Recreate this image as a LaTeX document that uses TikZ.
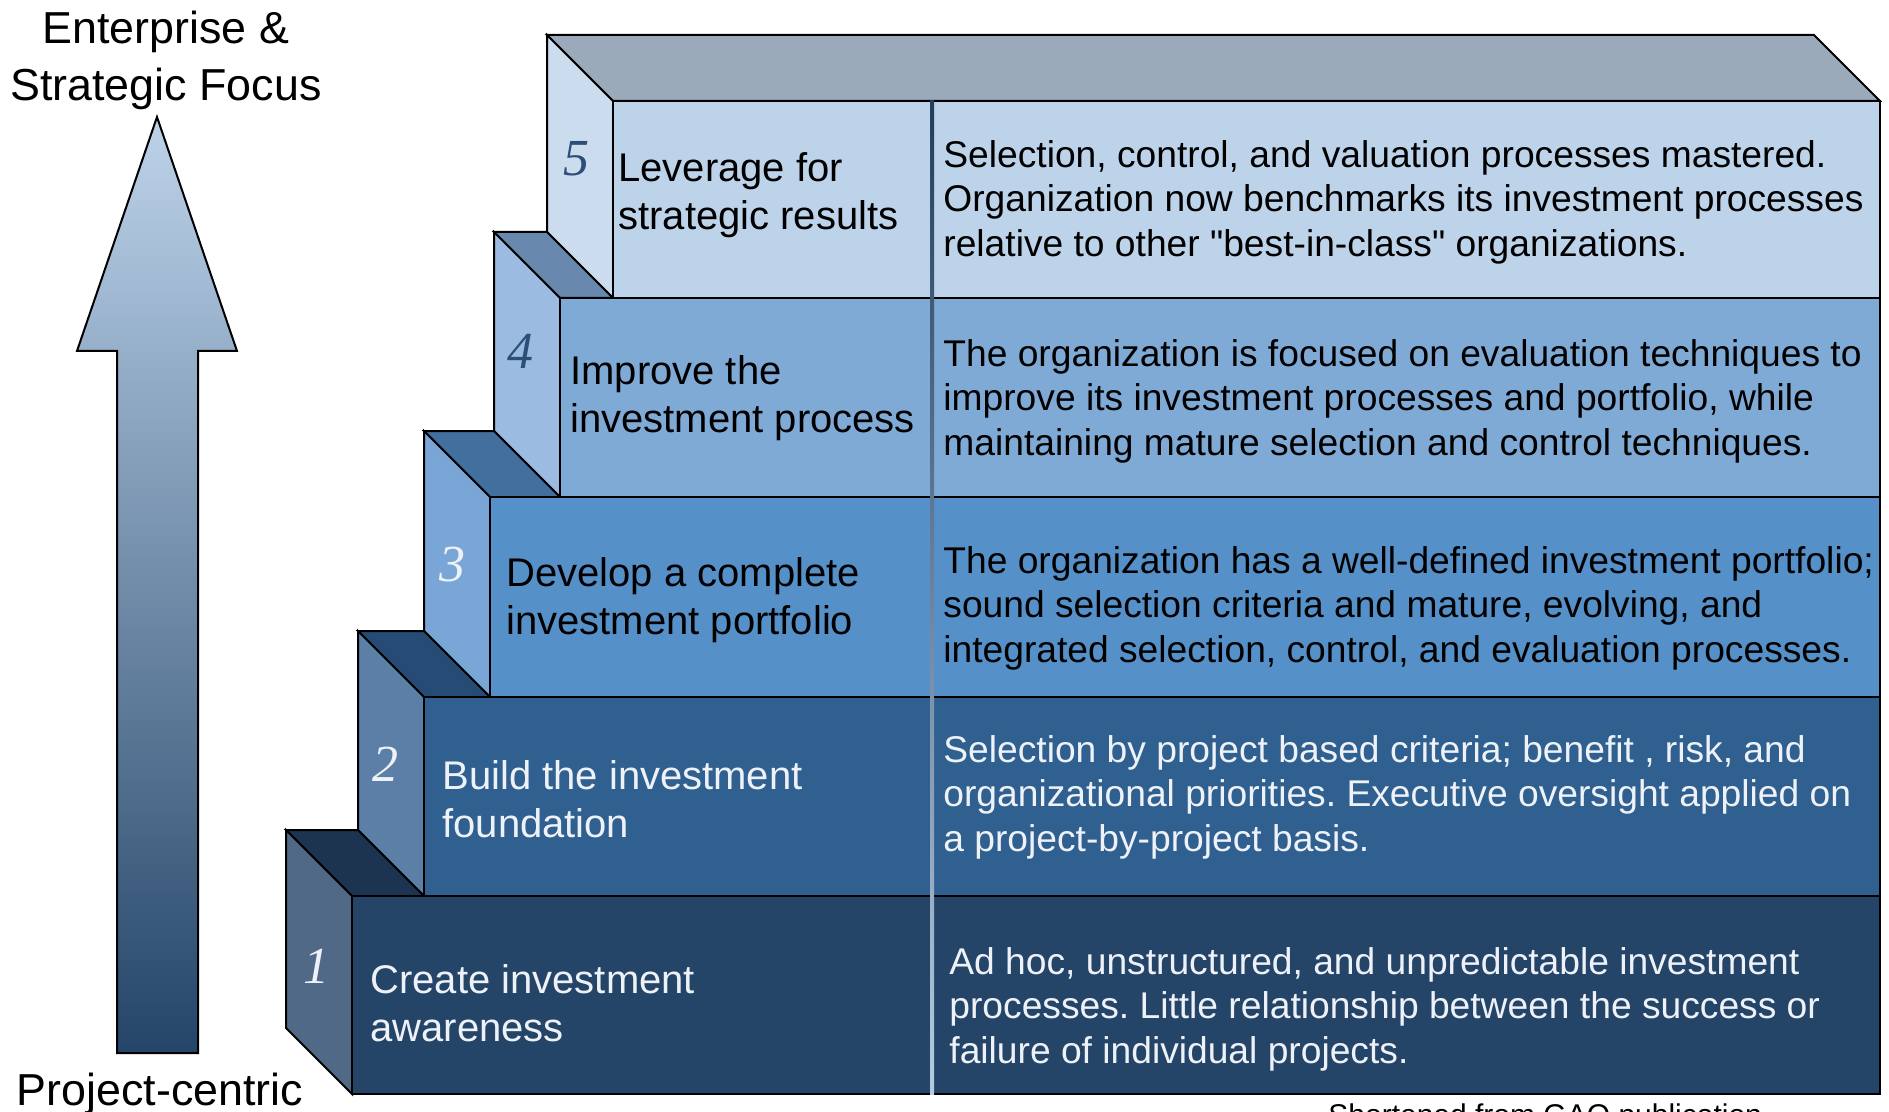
\documentclass[tikz,border=0pt]{standalone}
\usepackage{fontspec}
\setmainfont{Liberation Sans}
\newfontfamily\numfont{Liberation Serif}
\usepackage{tikz}
\usetikzlibrary{positioning}
\frenchspacing
\definecolor{stepAfront}{HTML}{244568}
\definecolor{stepAside}{HTML}{4F6987}
\definecolor{stepAtop}{HTML}{1C3450}
\definecolor{stepBfront}{HTML}{30608F}
\definecolor{stepBside}{HTML}{5B7FA7}
\definecolor{stepBtop}{HTML}{264B74}
\definecolor{stepCfront}{HTML}{5590C8}
\definecolor{stepCside}{HTML}{79A6D6}
\definecolor{stepCtop}{HTML}{436F9F}
\definecolor{stepDfront}{HTML}{80AAD6}
\definecolor{stepDside}{HTML}{9BBCE0}
\definecolor{stepDtop}{HTML}{6889AD}
\definecolor{stepEfront}{HTML}{BDD3EA}
\definecolor{stepEside}{HTML}{CADCEE}
\definecolor{stepEtop}{HTML}{9AAABB}
\definecolor{numdark}{HTML}{2D4E78}
\definecolor{textlight}{HTML}{EEF2F8}

\begin{document}
\begin{tikzpicture}[
    x=0.5pt, y=-0.5pt,
    face/.style={draw=black, line width=1pt, line join=miter},
    title/.style={anchor=west, align=left, inner sep=0pt, font=\fontsize{20}{24}\selectfont},
    desc/.style={anchor=west, align=left, inner sep=0pt, font=\fontsize{18.6}{22.3}\selectfont},
    stepnum/.style={inner sep=0pt, font=\numfont\itshape\fontsize{26}{26}\selectfont},
    axislabel/.style={align=center, inner sep=0pt, font=\fontsize{22.4}{28.5}\selectfont}
]
    \useasboundingbox (0,0) rectangle (1889,1112);
    \clip (0,0) rectangle (1889,1112);

    % Level 5
    \filldraw[face, fill=stepEtop] (547,35) -- (1814,35) -- (1880,101) -- (613,101) -- cycle;
    \filldraw[face, fill=stepEside] (547,35) -- (613,101) -- (613,298) -- (547,232) -- cycle;
    \filldraw[face, fill=stepEfront] (613,101) rectangle (1880,298);

    % Level 4
    \filldraw[face, fill=stepDtop] (494,232) -- (547,232) -- (613,298) -- (560,298) -- cycle;
    \filldraw[face, fill=stepDside] (494,232) -- (560,298) -- (560,497) -- (494,431) -- cycle;
    \filldraw[face, fill=stepDfront] (560,298) rectangle (1880,497);

    % Level 3
    \filldraw[face, fill=stepCtop] (424,431) -- (494,431) -- (560,497) -- (490,497) -- cycle;
    \filldraw[face, fill=stepCside] (424,431) -- (490,497) -- (490,697) -- (424,631) -- cycle;
    \filldraw[face, fill=stepCfront] (490,497) rectangle (1880,697);

    % Level 2
    \filldraw[face, fill=stepBtop] (358,631) -- (424,631) -- (490,697) -- (424,697) -- cycle;
    \filldraw[face, fill=stepBside] (358,631) -- (424,697) -- (424,896) -- (358,830) -- cycle;
    \filldraw[face, fill=stepBfront] (424,697) rectangle (1880,896);

    % Level 1
    \filldraw[face, fill=stepAtop] (286,830) -- (358,830) -- (424,896) -- (352,896) -- cycle;
    \filldraw[face, fill=stepAside] (286,830) -- (352,896) -- (352,1094) -- (286,1028) -- cycle;
    \filldraw[face, fill=stepAfront] (352,896) rectangle (1880,1094);

    % Divider
    \shade[top color=stepAfront!90!black, middle color=stepDtop!70!gray, bottom color=stepEfront!90!gray]
        (930,101) rectangle (934,1094);

    % Step numbers
    \node[stepnum, text=numdark] (nfive) at (576,159) {5};
    \node[stepnum, text=numdark] (nfour) at (520,351) {4};
    \node[stepnum, text=textlight] (nthree) at (452,565) {3};
    \node[stepnum, text=textlight] (ntwo) at (385,764) {2};
    \node[stepnum, text=textlight] (none) at (316,966) {1};

    % Step titles
    \node[title] (tfive) at (618,195) {Leverage for\\strategic results};
    \node[title] (tfour) at (570,398) {Improve the\\investment process};
    \node[title] (tthree) at (506,600) {Develop a complete\\investment portfolio};
    \node[title, text=textlight] (ttwo) at (442,799) {Build the investment\\foundation};
    \node[title, text=textlight] (tone) at (370,1003) {Create investment\\awareness};

    % Descriptions
    \node[desc] (dfive) at (943,202) {Selection, control, and valuation processes mastered.\\Organization now benchmarks its investment processes\\relative to other \textquotedbl best-in-class\textquotedbl{} organizations.};
    \node[desc] (dfour) at (943,401) {The organization is focused on evaluation techniques to\\improve its investment processes and portfolio, while\\maintaining mature selection and control techniques.};
    \node[desc] (dthree) at (943,608) {The organization has a well-defined investment portfolio;\\sound selection criteria and mature, evolving, and\\integrated selection, control, and evaluation processes.};
    \node[desc, text=textlight] (dtwo) at (943,797) {Selection by project based criteria; benefit , risk, and\\organizational priorities. Executive oversight applied on\\a project-by-project basis.};
    \node[desc, text=textlight] (done) at (949,1009) {Ad hoc, unstructured, and unpredictable investment\\processes. Little relationship between the success or\\failure of individual projects.};

    % Focus arrow
    \shade[draw=black, line width=1pt, top color=stepEfront, bottom color=stepAfront]
        (157,117) -- (237,351) -- (198,351) -- (198,1053) -- (117,1053) -- (117,351) -- (77,351) -- cycle;
    \node[axislabel] (enterprise) at (166,60) {Enterprise \&\\Strategic Focus};
    \node[axislabel, anchor=base] (project) at (160,1105) {Project-centric};

    % Source note
    \node[anchor=base west, inner sep=0pt, font=\fontsize{15}{15}\selectfont] (source) at (1328,1125) {Shortened from GAO publication};
\end{tikzpicture}
\end{document}
